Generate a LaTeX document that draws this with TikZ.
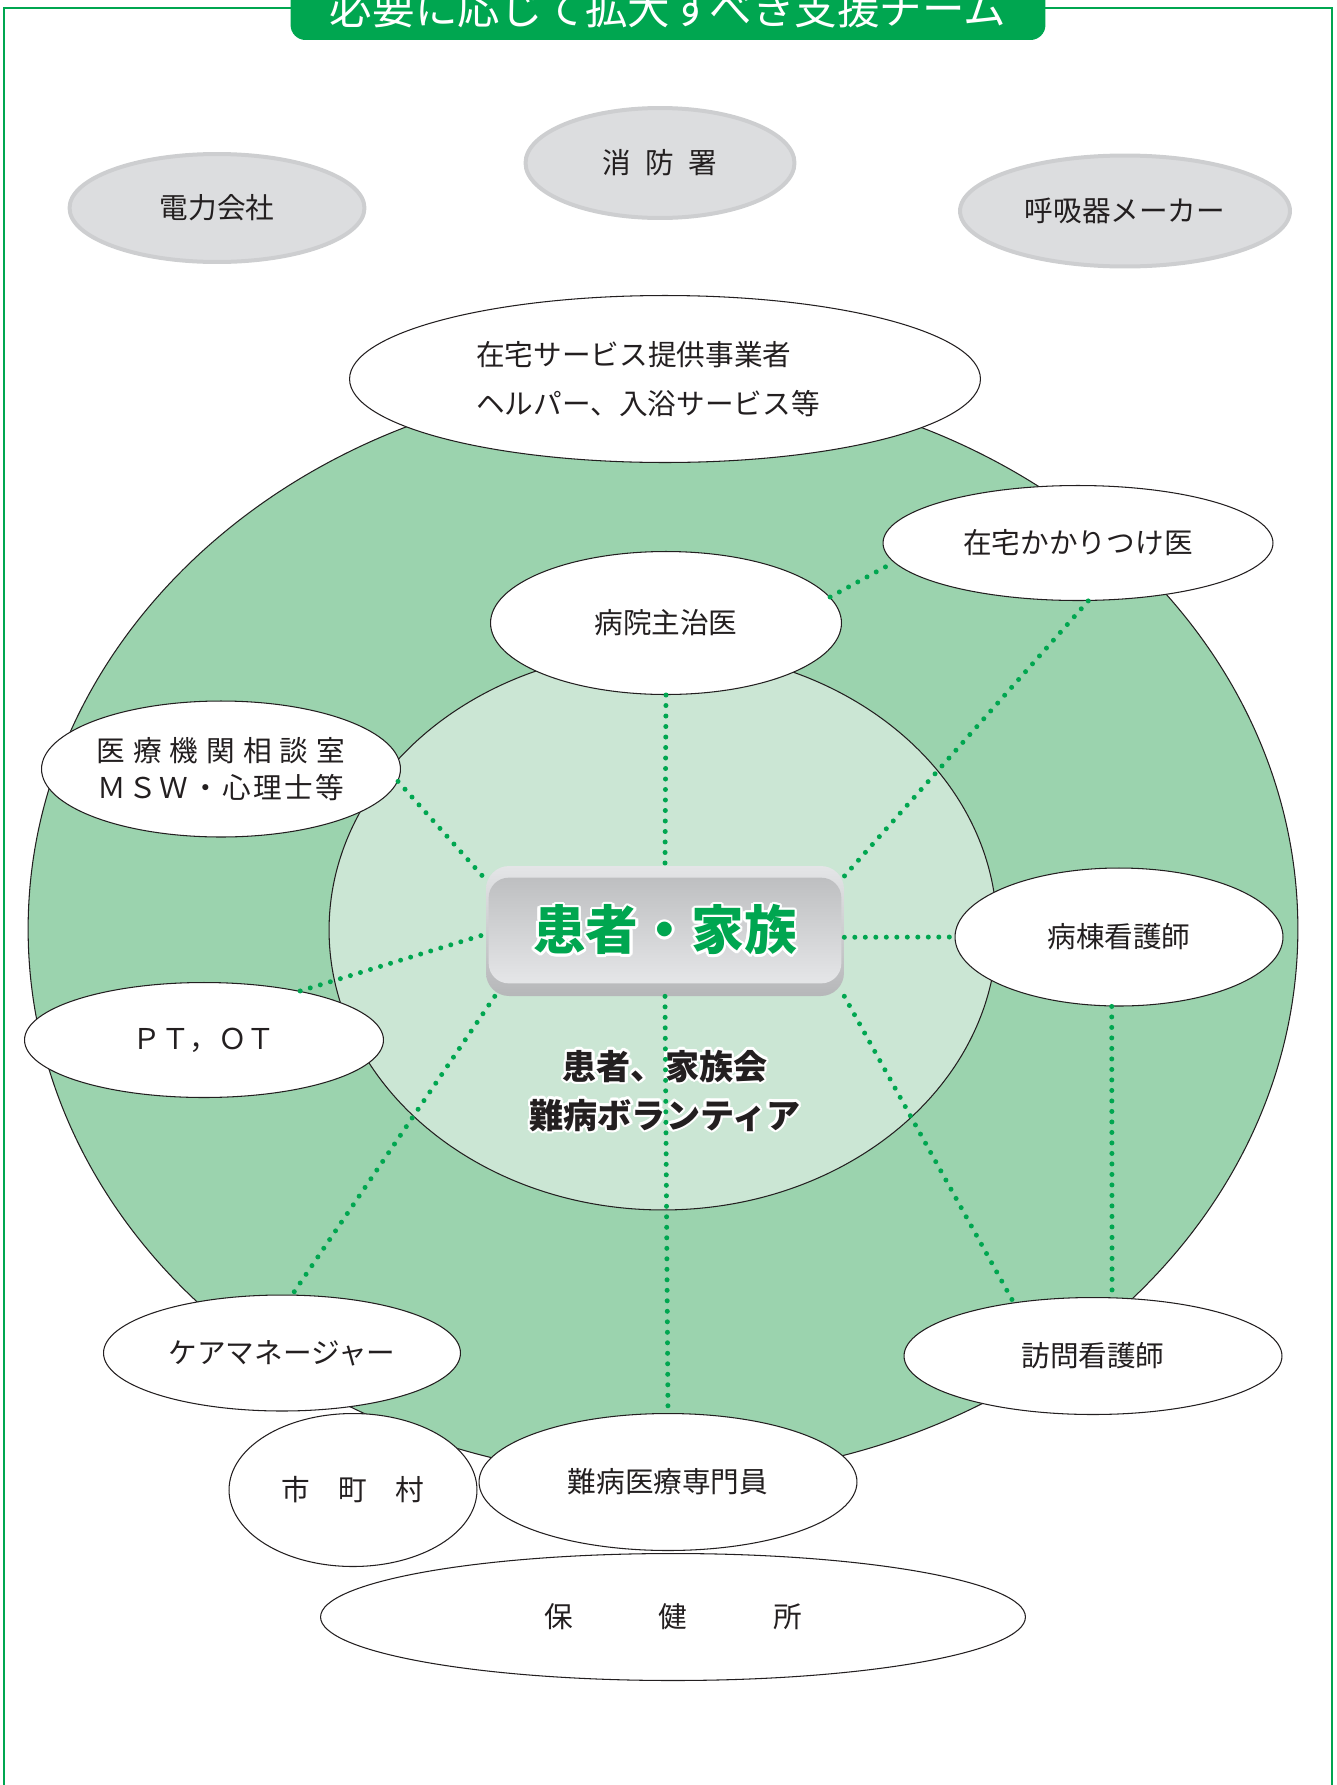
\documentclass[tikz,border=0pt]{standalone}
\usepackage{fontspec}
\usepackage{tikz}
\usetikzlibrary{shapes.geometric}
\usepackage[copies]{contour}
\setmainfont{Noto Sans CJK JP}

\definecolor{teamgreen}{HTML}{00A650}
\definecolor{ringgreen}{HTML}{9BD3AE}
\definecolor{coregreen}{HTML}{CBE6D4}
\definecolor{agencygray}{HTML}{DCDDDF}
\definecolor{agencyrim}{HTML}{CDCED0}
\definecolor{inkblack}{HTML}{231F20}
\definecolor{boxlight}{HTML}{E4E5E7}
\definecolor{boxdark}{HTML}{B6B7B9}
\definecolor{facedark}{HTML}{BEBFC1}
\definecolor{facelight}{HTML}{E5E6E8}

\newcommand{\lblfont}{\fontsize{16.3}{21}\selectfont}
\contourlength{0.05cm}

\begin{document}
\begin{tikzpicture}[x=0.02cm, y=-0.02cm, member/.style = {ellipse, draw=inkblack, line width=0.6pt, fill=white, inner sep=0pt, align=center, text=inkblack, font=\lblfont}, agency/.style = {ellipse, draw=agencyrim, line width=0.08cm, fill=agencygray, inner sep=0pt, text=inkblack, font=\lblfont}, link/.style = {teamgreen, line width=0.1cm, line cap=round, dash pattern=on 0pt off 0.21cm}]

    \useasboundingbox (0,0) rectangle (1337,1785);

    % frame and title
    \draw[teamgreen, line width=0.04cm] (4,8) rectangle (1332,1800);
    \node[fill=teamgreen, rounded corners=0.3cm, minimum width=15.1cm, minimum height=1.28cm, text=white, font=\fontsize{24.2}{28}\selectfont] (title) at (668,8) {必要に応じて拡大すべき支援チーム};

    % rings
    \draw[inkblack, line width=0.6pt, fill=ringgreen] (663,929) ellipse [x radius=12.7cm, y radius=10.98cm];
    \draw[inkblack, line width=0.6pt, fill=coregreen] (663,930) ellipse [x radius=6.68cm, y radius=5.6cm];

    % patient and family
    \node[rounded corners=0.46cm, minimum width=7.16cm, minimum height=2.6cm, top color=boxlight, bottom color=boxdark] (kanja) at (665,931) {};
    \shade[rounded corners=0.4cm, top color=facedark, bottom color=facelight] ([xshift=0.06cm, yshift=-0.24cm]kanja.north west) rectangle ([xshift=-0.06cm, yshift=0.26cm]kanja.south east);
    \node[font=\fontsize{30}{34}\selectfont\bfseries, text=teamgreen] (kanjatext) at (kanja.center) {\contour{white}{患者・家族}};
    \node[font=\fontsize{19.4}{27.9}\selectfont\bfseries, text=inkblack, align=center] (kazokukai) at (665,1092) {\contour{white}{患者、家族会}\\\contour{white}{難病ボランティア}};

    % agencies outside the team
    \node[agency, minimum width=5.9cm, minimum height=2.16cm] (denryoku) at (217,208) {電力会社};
    \node[agency, minimum width=5.38cm, minimum height=2.2cm] (shobo) at (660,163) {消\hspace{0.5em}防\hspace{0.5em}署};
    \node[agency, minimum width=6.6cm, minimum height=2.22cm] (kokyuki) at (1125,211) {呼吸器メーカー};

    % team members
    \node[member, minimum width=12.62cm, minimum height=3.34cm, align=left, font=\fontsize{16.3}{27.9}\selectfont] (zaitakusvc) at (665,379) {在宅サービス提供事業者\\ヘルパー、入浴サービス等\hspace*{0.68cm}};
    \node[member, minimum width=7.02cm, minimum height=2.86cm] (byoin) at (666,623) {病院主治医};
    \node[member, minimum width=7.8cm, minimum height=2.3cm] (zaitakui) at (1078,543) {在宅かかりつけ医};
    \node[member, minimum width=7.18cm, minimum height=2.72cm, inner xsep=-0.6cm] (soudan) at (221,769) {{\addfontfeatures{LetterSpace=28}医療機関相談室}\\{\addfontfeatures{LetterSpace=9}ＭＳＷ・心理士等}};
    \node[member, minimum width=7.18cm, minimum height=2.3cm] (ptot) at (204,1040) {ＰＴ，ＯＴ};
    \node[member, minimum width=6.56cm, minimum height=2.76cm] (byoto) at (1119,937) {病棟看護師};
    \node[member, minimum width=7.56cm, minimum height=2.34cm] (homon) at (1093,1356) {訪問看護師};
    \node[member, minimum width=7.14cm, minimum height=2.32cm] (caremgr) at (282,1353) {ケアマネージャー};
    \node[member, minimum width=4.96cm, minimum height=3.06cm] (shichoson) at (353,1490) {市\quad 町\quad 村};
    \node[member, minimum width=7.56cm, minimum height=2.74cm] (senmon) at (668,1482) {難病医療専門員};
    \node[member, minimum width=14.1cm, minimum height=2.54cm] (hokenjo) at (673,1617) {保\hspace{3em}健\hspace{3em}所};

    % links
    \draw[link] (byoin.south) -- (kanja.north);
    \draw[link] (byoin.9) -- (zaitakui.186);
    \draw[link] (zaitakui.280) -- (kanja.17);
    \draw[link] (soudan.356) -- (kanja.164);
    \draw[link] (ptot.27) -- (kanja.181);
    \draw[link] (kanja.-2) -- (byoto.west);
    \draw[link] (byoto.264) -- (homon.72);
    \draw[link] (kanja.340) -- (homon.146);
    \draw[link] (kanja.south) -- (senmon.north);
    \draw[link] (kanja.201) -- (caremgr.80);

\end{tikzpicture}
\end{document}
